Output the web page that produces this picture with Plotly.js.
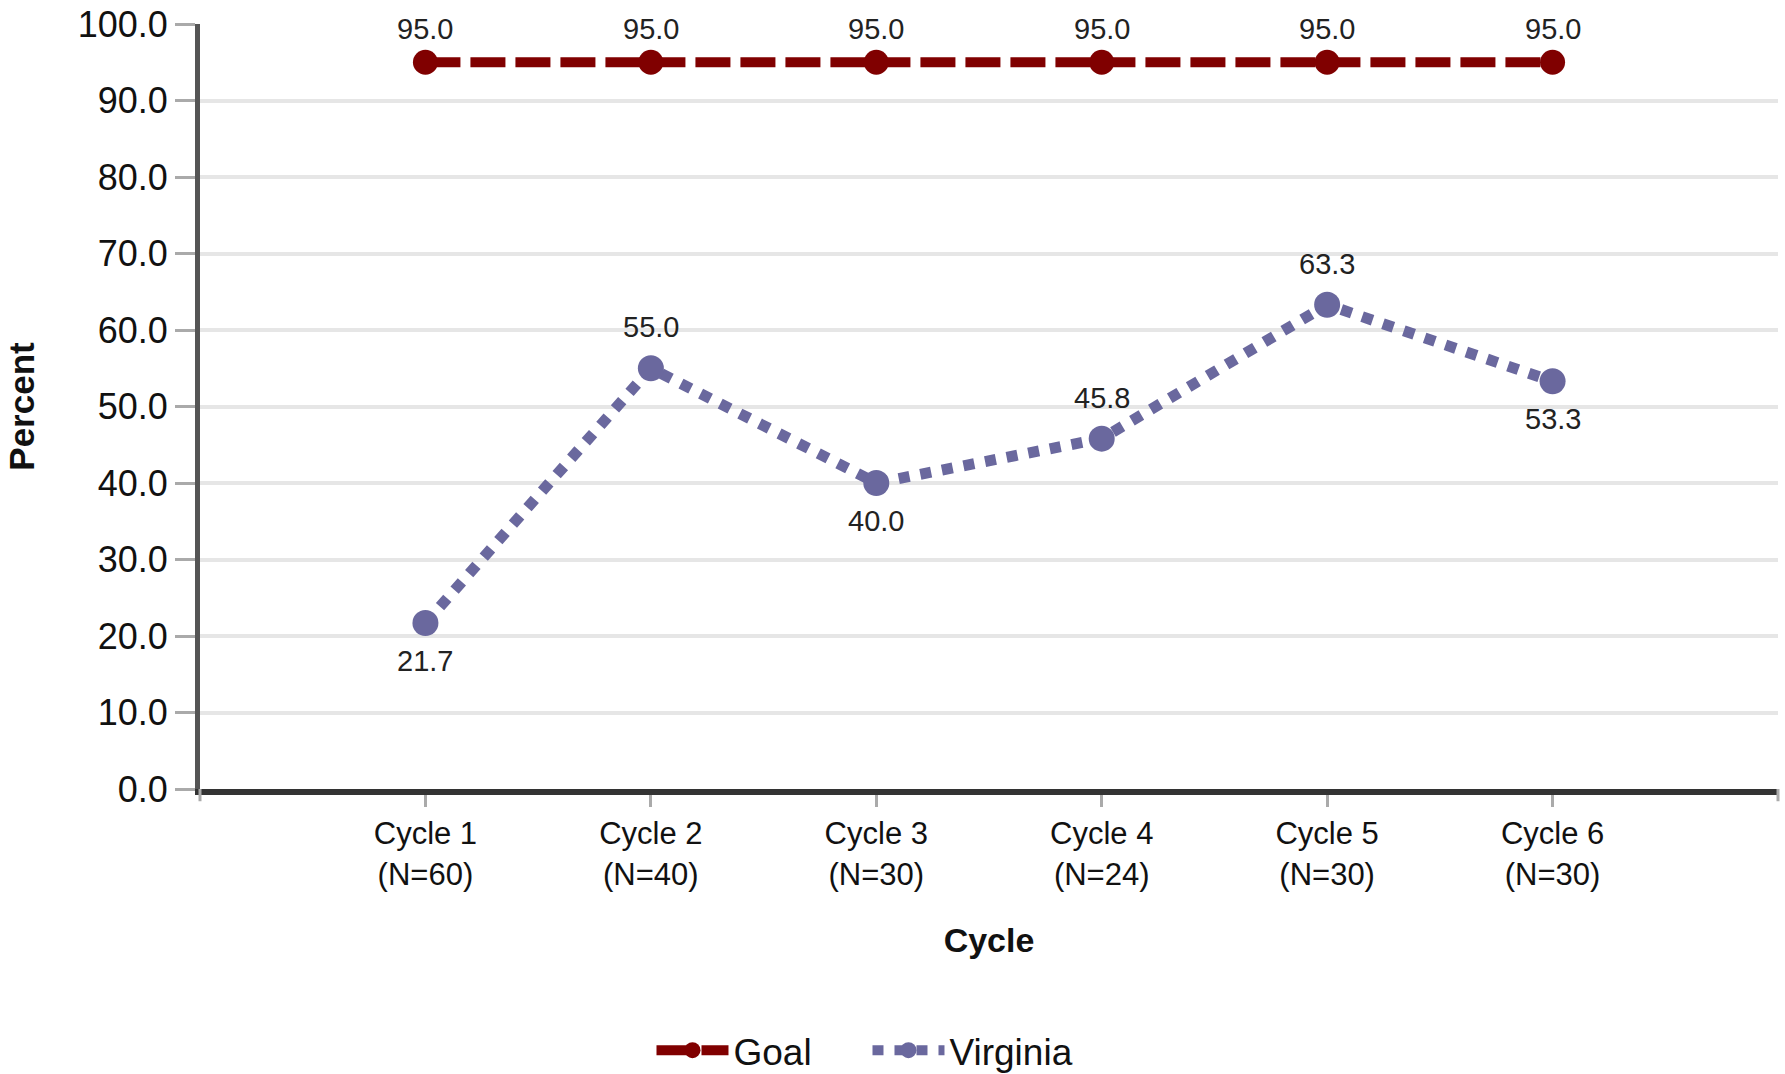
<!DOCTYPE html>
<html>
<head>
<meta charset="utf-8">
<script src="https://cdn.plot.ly/plotly-3.0.1.min.js"></script>
<style>
html,body{margin:0;padding:0;background:#fff;}
#chart{width:1785px;height:1074px;}
</style>
</head>
<body>
<div id="chart"></div>
<script>
var categories = ["Cycle 1<br>(N=60)", "Cycle 2<br>(N=40)", "Cycle 3<br>(N=30)", "Cycle 4<br>(N=24)", "Cycle 5<br>(N=30)", "Cycle 6<br>(N=30)"];
var goalValues = [95.0, 95.0, 95.0, 95.0, 95.0, 95.0];
var virginiaValues = [21.7, 55.0, 40.0, 45.8, 63.3, 53.3];
var virginiaLabelSide = ["below", "above", "below", "above", "above", "below"];
var yTickVals = [0, 10, 20, 30, 40, 50, 60, 70, 80, 90, 100];

var FONT = "Liberation Sans, Arial, sans-serif";

var goal = {
  x: categories, y: goalValues, name: "Goal", type: "scatter", mode: "lines+markers",
  line: {color: "#800000", width: 10, dash: "35px,10px"},
  marker: {color: "#800000", size: 25},
  cliponaxis: false, hoverinfo: "skip"
};
var virginia = {
  x: categories, y: virginiaValues, name: "Virginia", type: "scatter", mode: "lines+markers",
  line: {color: "#6a689e", width: 11, dash: "11px,11px"},
  marker: {color: "#6a689e", size: 26},
  cliponaxis: false, hoverinfo: "skip"
};

var annotations = [];
goalValues.forEach(function(v, i){
  annotations.push({x: categories[i], y: v, xref: "x", yref: "y", text: v.toFixed(1), showarrow: false,
    yshift: 33, font: {family: FONT, size: 29, color: "#222"}});
});
virginiaValues.forEach(function(v, i){
  annotations.push({x: categories[i], y: v, xref: "x", yref: "y", text: v.toFixed(1), showarrow: false,
    yshift: virginiaLabelSide[i] === "above" ? 41 : -38, font: {family: FONT, size: 29, color: "#222"}});
});

var layout = {
  width: 1785, height: 1074,
  margin: {l: 200, r: 7, t: 24, b: 285, autoexpand: false},
  paper_bgcolor: "#fff", plot_bgcolor: "#fff",
  font: {family: FONT, color: "#111"},
  showlegend: true,
  legend: {
    orientation: "h", x: 0.423, xanchor: "center", y: -0.342, yanchor: "middle",
    font: {family: FONT, size: 37, color: "#111"},
    itemwidth: 72, entrywidth: 129, tracegroupgap: 0
  },
  xaxis: {
    type: "category", range: [-1, 6],
    showgrid: false, zeroline: false,
    showline: true, linecolor: "#333", linewidth: 6,
    ticks: "outside", ticklen: 12, tickwidth: 3, tickcolor: "#aaa",
    tickfont: {family: FONT, size: 31, color: "#111"},
    title: {text: "<b>Cycle</b>", font: {family: FONT, size: 34, color: "#111"}, standoff: 40},
    fixedrange: true
  },
  yaxis: {
    range: [0, 100], tickvals: yTickVals, tickformat: ".1f",
    showgrid: true, gridcolor: "#e6e6e6", gridwidth: 4,
    zeroline: false,
    showline: true, linecolor: "#555", linewidth: 5,
    ticks: "outside", ticklen: 20, tickwidth: 3, tickcolor: "#aaa",
    tickfont: {family: FONT, size: 36, color: "#111"},
    title: {text: "<b>Percent</b>", font: {family: FONT, size: 35, color: "#111"}, standoff: 34},
    fixedrange: true
  },
  annotations: annotations,
  shapes: [
    {type: "line", xref: "paper", yref: "paper", x0: 0, x1: 0, y0: 0, y1: -0.016, line: {color: "#aaa", width: 3}},
    {type: "line", xref: "paper", yref: "paper", x0: 1, x1: 1, y0: 0, y1: -0.016, line: {color: "#aaa", width: 3}}
  ]
};

Plotly.newPlot("chart", [goal, virginia], layout, {displayModeBar: false, staticPlot: true});
</script>
</body>
</html>
